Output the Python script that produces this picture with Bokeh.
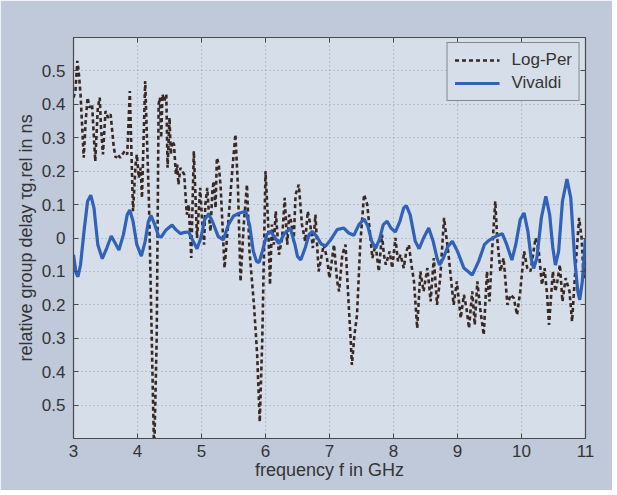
from bokeh.plotting import figure
from bokeh.models import FixedTicker, LinearAxis, Range1d, Legend, LegendItem, CustomJSTickFormatter
from bokeh.embed import file_html
from bokeh.resources import INLINE

# ---- data ----
freq_logper = [3.00, 3.03, 3.06, 3.08, 3.11, 3.16, 3.19, 3.22, 3.25, 3.29, 3.34, 3.38, 3.41, 3.43, 3.46,
               3.50, 3.54, 3.58, 3.60, 3.63, 3.66, 3.69, 3.73, 3.80, 3.84, 3.88, 3.93, 3.97, 3.99, 4.02,
               4.05, 4.07, 4.12, 4.18, 4.26, 4.30, 4.33, 4.35, 4.37, 4.39, 4.42, 4.45, 4.47, 4.50, 4.52, 4.54, 4.57,
               4.60, 4.62, 4.64, 4.67, 4.70, 4.73, 4.77, 4.80, 4.84, 4.88, 4.93, 4.98, 5.01, 5.04, 5.06, 5.09, 5.12,
               5.14, 5.17, 5.19, 5.22, 5.24,
               5.27, 5.30, 5.36, 5.42, 5.48, 5.53, 5.57, 5.61, 5.66, 5.71, 5.75, 5.82, 5.87, 5.91, 5.95,
               6.00, 6.04, 6.07, 6.10, 6.13, 6.16, 6.21, 6.26, 6.30, 6.34, 6.37, 6.40, 6.44, 6.47, 6.52, 6.57, 6.62,
               6.66, 6.70, 6.74,
               6.78, 6.83, 6.91, 6.96, 7.00, 7.07, 7.12, 7.15, 7.20, 7.25, 7.30, 7.33, 7.35, 7.39, 7.43,
               7.48, 7.54, 7.59, 7.64, 7.67, 7.72, 7.77, 7.82, 7.85, 7.88, 7.94, 7.98, 8.03, 8.07, 8.11, 8.16,
               8.20, 8.24, 8.28, 8.32,
               8.37, 8.42, 8.47, 8.53, 8.58, 8.63, 8.68, 8.73, 8.79, 8.86, 8.94, 8.99, 9.05, 9.10, 9.14, 9.18,
               9.23, 9.27, 9.31, 9.36, 9.41, 9.46, 9.50, 9.54, 9.59, 9.62, 9.67, 9.72, 9.78, 9.83, 9.88,
               9.93, 9.98, 10.04, 10.09, 10.14, 10.18, 10.22, 10.27, 10.32, 10.36, 10.40, 10.43, 10.49, 10.53,
               10.56, 10.60, 10.64, 10.69, 10.75, 10.79, 10.84, 10.90, 10.94, 10.97, 11.00]
delay_logper = [0.42, 0.44, 0.53, 0.50, 0.43, 0.24, 0.35, 0.42, 0.39, 0.40, 0.23, 0.39, 0.42, 0.33, 0.25,
                0.38, 0.36, 0.37, 0.33, 0.27, 0.24, 0.25, 0.24, 0.26, 0.25, 0.44, 0.08, 0.22, 0.25, 0.18,
                0.21, 0.12, 0.47, 0.10, -0.65, -0.30, 0.40, 0.42, 0.30, 0.43, 0.41, 0.43, 0.21, 0.36, 0.25, 0.29, 0.28,
                0.19, 0.22, 0.16, 0.21, 0.20, 0.19, 0.07, 0.10, -0.06, 0.26, 0.00, 0.15, 0.05, -0.02, 0.10, 0.15, 0.06,
                0.02, 0.14, 0.17, 0.09, 0.24,
                0.22, 0.15, -0.09, 0.05, 0.20, 0.31, 0.15, -0.13, 0.04, 0.16, -0.04, -0.20, -0.35, -0.55, -0.30,
                0.20, 0.05, -0.14, 0.04, -0.02, 0.08, -0.05, 0.00, 0.12, -0.02, 0.07, 0.05, -0.01, 0.13, 0.16, 0.04, -0.01,
                0.08, 0.04, -0.03,
                0.07, -0.10, -0.02, -0.06, -0.12, -0.02, -0.13, -0.16, -0.05, -0.02, -0.20, -0.30, -0.38, -0.29, -0.23,
                -0.02, 0.13, 0.10, 0.00, -0.06, -0.02, -0.10, 0.01, -0.05, -0.08, -0.04, -0.09, 0.00, -0.07, -0.05, -0.09,
                -0.04, -0.02, -0.08, -0.13,
                -0.27, -0.10, -0.16, -0.09, -0.19, -0.06, -0.20, -0.12, 0.06, -0.05, -0.20, -0.13, -0.24, -0.17, -0.21, -0.27,
                -0.16, -0.26, -0.13, -0.22, -0.29, -0.10, -0.19, -0.04, 0.11, 0.00, -0.10, -0.06, -0.20, -0.17, -0.18,
                -0.23, -0.16, -0.04, -0.09, -0.10, -0.05, 0.00, -0.04, -0.14, -0.09, -0.17, -0.26, -0.10, -0.16,
                -0.13, -0.08, -0.19, -0.12, -0.16, -0.25, -0.10, 0.06, 0.00, -0.12, -0.05]

freq_vivaldi = [3.00, 3.04, 3.07, 3.11, 3.17, 3.22, 3.27, 3.32, 3.38, 3.45, 3.52, 3.59, 3.65, 3.71, 3.78,
                3.84, 3.88, 3.93, 3.99, 4.06, 4.12, 4.17, 4.21, 4.27, 4.33, 4.37, 4.45, 4.54, 4.60, 4.67,
                4.74, 4.80, 4.87, 4.93, 4.99, 5.05, 5.11, 5.17, 5.26, 5.34, 5.42, 5.50, 5.60, 5.69, 5.75,
                5.81, 5.86, 5.90, 5.95, 6.02, 6.08, 6.15, 6.21, 6.30, 6.39, 6.46, 6.50, 6.55, 6.62, 6.68,
                6.73, 6.80, 6.87, 6.94, 7.02, 7.12, 7.22, 7.30, 7.38, 7.46, 7.54, 7.60, 7.66, 7.72, 7.78,
                7.84, 7.90, 7.96, 8.03, 8.10, 8.16, 8.20, 8.26, 8.34, 8.40, 8.47, 8.55, 8.62, 8.68, 8.72,
                8.78, 8.85, 8.92, 9.00, 9.10, 9.23, 9.33, 9.42, 9.49, 9.60, 9.70, 9.77, 9.85, 9.91, 9.98,
                10.04, 10.10, 10.15, 10.19, 10.24, 10.31, 10.38, 10.44, 10.49, 10.53, 10.58, 10.64, 10.71,
                10.77, 10.83, 10.88, 10.91, 10.95, 11.00]
delay_vivaldi = [-0.05, -0.105, -0.116, -0.08, 0.03, 0.11, 0.128, 0.09, -0.02, -0.062, -0.03, 0.006, -0.015, -0.036, 0.01,
                 0.07, 0.084, 0.05, -0.02, -0.054, -0.01, 0.05, 0.068, 0.04, 0.005, 0.003, 0.025, 0.039, 0.025, 0.013,
                 0.017, 0.018, -0.01, -0.032, 0.0, 0.055, 0.072, 0.05, 0.005, -0.006, 0.04, 0.066, 0.075, 0.08, 0.04,
                 -0.04, -0.07, -0.073, -0.04, 0.01, 0.02, 0.0, -0.017, 0.015, 0.028, -0.02, -0.055, -0.066, -0.03, 0.01,
                 0.02, 0.005, -0.018, -0.024, -0.005, 0.025, 0.03, 0.015, 0.008, 0.04, 0.057, 0.035, -0.01, -0.03, -0.005,
                 0.04, 0.05, 0.03, 0.018, 0.05, 0.09, 0.097, 0.07, -0.01, -0.032, 0.0, 0.03, -0.01, -0.06, -0.081,
                 -0.06, -0.025, -0.01, -0.04, -0.09, -0.111, -0.07, -0.02, -0.007, 0.005, 0.013, -0.02, -0.066, -0.02, 0.055,
                 0.075, 0.02, -0.06, -0.091, -0.06, 0.06, 0.125, 0.07, -0.03, -0.081, -0.04, 0.11, 0.176,
                 0.12, -0.06, -0.16, -0.185, -0.13, 0.0]

x_ticks = [3, 4, 5, 6, 7, 8, 9, 10, 11]
y_ticks = [-0.5, -0.4, -0.3, -0.2, -0.1, 0.0, 0.1, 0.2, 0.3, 0.4, 0.5]
y_tick_labels = ["0.5", "0.4", "0.3", "0.2", "0.1", "0", "0.1", "0.2", "0.3", "0.4", "0.5"]
series_names = ["Log-Per", "Vivaldi"]

FONT = "Liberation Sans"
TXT = "#343434"

p = figure(width=612, height=490, output_backend="svg", toolbar_location=None,
           x_range=Range1d(3, 11), y_range=Range1d(-0.6, 0.6),
           min_border_left=73, min_border_right=27, min_border_top=37, min_border_bottom=52)
p.background_fill_color = "#d6dee9"
p.border_fill_color = "#bfc9da"
p.outline_line_color = "#4a4a4a"
p.outline_line_width = 1.2

# grid
p.xgrid.ticker = FixedTicker(ticks=x_ticks)
p.ygrid.ticker = FixedTicker(ticks=y_ticks)
for g in (p.xgrid, p.ygrid):
    g.grid_line_color = "#8a93a3"
    g.grid_line_dash = "1 3"
    g.grid_line_width = 1
    g.grid_line_alpha = 0.8

# axes
xa = p.xaxis[0]
xa.ticker = FixedTicker(ticks=x_ticks)
xa.axis_label = "frequency f in GHz"
ya = p.yaxis[0]
ya.ticker = FixedTicker(ticks=y_ticks)
ya.major_label_overrides = {t: l for t, l in zip(y_ticks, y_tick_labels)}
ya.axis_label = "relative group delay τg,rel in ns"
for ax in (xa, ya):
    ax.major_label_text_font = FONT
    ax.major_label_text_font_size = "17px"
    ax.major_label_text_color = TXT
    ax.axis_label_text_font = FONT
    ax.axis_label_text_font_size = "18px"
    ax.axis_label_text_font_style = "normal"
    ax.axis_label_text_color = TXT
    ax.axis_line_color = "#4a4a4a"
    ax.major_tick_line_color = "#4a4a4a"
    ax.major_tick_in = 5
    ax.major_tick_out = 0
    ax.minor_tick_line_color = None
xa.major_label_standoff = 6
xa.axis_label_standoff = 0
ya.major_label_standoff = 8
ya.axis_label_standoff = 3

blank = CustomJSTickFormatter(code="return ''")
top = LinearAxis(ticker=FixedTicker(ticks=x_ticks), formatter=blank)
right = LinearAxis(ticker=FixedTicker(ticks=y_ticks), formatter=blank)
for ax in (top, right):
    ax.axis_line_color = None
    ax.major_tick_line_color = "#4a4a4a"
    ax.major_tick_in = 5
    ax.major_tick_out = 0
    ax.minor_tick_line_color = None
    ax.major_label_text_font_size = "1px"
p.add_layout(top, "above")
p.add_layout(right, "right")

r_log = p.line(freq_logper, delay_logper, line_color="#3a2824", line_width=2.6, line_dash="4 3")
r_viv = p.line(freq_vivaldi, delay_vivaldi, line_color="#2f62b8", line_width=3.2)

legend = Legend(items=[LegendItem(label=series_names[0], renderers=[r_log]),
                       LegendItem(label=series_names[1], renderers=[r_viv])],
                location="top_right", margin=5)
legend.label_text_font = FONT
legend.label_text_font_size = "17px"
legend.label_text_color = TXT
legend.background_fill_color = "#d6dee9"
legend.background_fill_alpha = 1
legend.border_line_color = "#333333"
legend.border_line_width = 1.5
legend.glyph_width = 45
legend.glyph_height = 20
legend.label_standoff = 12
legend.padding = 7
legend.spacing = 3
p.add_layout(legend)

open("out.html", "w").write(file_html(p, INLINE))
